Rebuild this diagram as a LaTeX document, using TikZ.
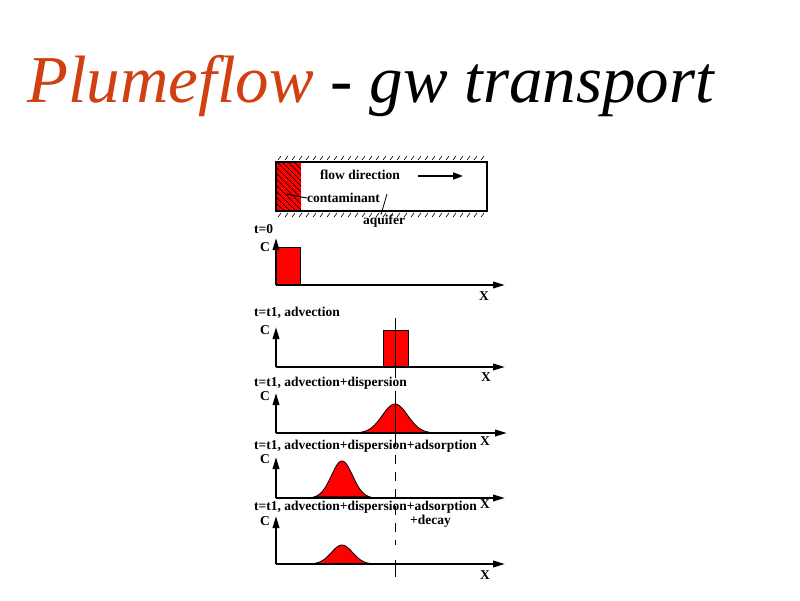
\documentclass[tikz,border=0pt]{standalone}
\usepackage{fontspec}
\setmainfont{Liberation Serif}
\usetikzlibrary{arrows.meta,patterns.meta}

\definecolor{plumered}{RGB}{208,64,16}

\begin{document}
\begin{tikzpicture}[
  x=1pt, y=-1pt,
  >={Triangle[length=12pt,width=6.5pt]},
  axis/.style={line width=2pt, ->},
  lab/.style={font=\fontsize{13.5}{15}\selectfont\bfseries, inner sep=0pt, anchor=west},
  sym/.style={font=\fontsize{13.5}{15}\selectfont\bfseries, inner sep=0pt},
  conc/.style={fill=red, draw=black, line width=0.8pt},
  hatch/.style={line width=0.6pt}
]
\useasboundingbox (0,0) rectangle (800,600);

% Title
\node[anchor=base west, inner sep=0pt, font=\fontsize{67}{78}\selectfont\itshape] (title) at (27,102) {\textcolor{plumered}{Plumeflow} - gw transport};

% Aquifer sketch
\fill[red] (276,162) rectangle (301,211);
\fill[pattern={Lines[angle=-45,distance=4pt,line width=0.8pt]}] (276,162) rectangle (301,211);
\draw[line width=2pt] (276,162) rectangle (487,211);
\foreach \hx in {278,285,...,484} {
  \draw[hatch] (\hx,160) -- ++(3,-4);
  \draw[hatch] (\hx,217) -- ++(3,-4);
}
\node[sym, anchor=west] (flowlab) at (320,175) {flow direction};
\draw[line width=2pt, -{Triangle[length=10pt,width=7pt]}] (418,176) -- (463,176);
\node[sym, anchor=west] (contlab) at (307,198) {contaminant};
\draw[line width=1pt] (contlab.west) -- (286,194);
\node[sym] (aqlab) at (384,221) {aquifer};
\draw[line width=0.8pt] ([xshift=-3pt]aqlab.north) -- (387,194);

% t=0
\node[lab] (t0lab) at (254,229) {t=0};
\fill[conc] (276,247) rectangle (300,285);
\draw[axis] (276,285) -- (276,238);
\draw[axis] (276,285) -- (505,285);
\node[sym] (c0) at (265,247) {C};
\node[sym] (x0) at (484,296) {X};

% advection
\node[lab] (t1lab) at (254,313) {t=t1, advection};
\fill[conc] (383,330) rectangle (408,367);
\draw[axis] (276,367) -- (276,327);
\draw[axis] (276,367) -- (505,367);
\node[sym] (c1) at (265,330) {C};
\node[sym] (x1) at (486,377) {X};

% advection + dispersion
\node[lab] (t2lab) at (254,383) {t=t1, advection+dispersion};
\fill[conc] plot[domain=359:431, samples=60] (\x, {433-29*exp(-((\x-395)/18)*((\x-395)/18))}) -- cycle;
\draw[axis] (276,433) -- (276,393);
\draw[axis] (276,433) -- (507,433);
\node[sym] (c2) at (265,396) {C};
\node[sym] (x2) at (485,441) {X};

% advection + dispersion + adsorption
\node[lab] (t3lab) at (254,446) {t=t1, advection+dispersion+adsorption};
\fill[conc] plot[domain=314:370, samples=60] (\x, {498-37*exp(-((\x-342)/15)*((\x-342)/15))}) -- cycle;
\draw[axis] (276,498) -- (276,457);
\draw[axis] (276,498) -- (505,498);
\node[sym] (c3) at (265,459) {C};
\node[sym] (x3) at (485,504) {X};

% advection + dispersion + adsorption + decay
\node[lab] (t4lab) at (254,507) {t=t1, advection+dispersion+adsorption};
\node[sym, anchor=west] (decaylab) at (410,521) {+decay};
\fill[conc] plot[domain=314:370, samples=60] (\x, {564-19*exp(-((\x-342)/15)*((\x-342)/15))}) -- cycle;
\draw[axis] (276,564) -- (276,516);
\draw[axis] (276,564) -- (505,564);
\node[sym] (c4) at (265,521) {C};
\node[sym] (x4) at (485,575) {X};

% reference position
\draw[line width=0.8pt] (395,318) -- (395,378);
\draw[line width=0.8pt] (395,391) -- (395,447);
\draw[line width=0.8pt, dash pattern=on 9pt off 8pt] (395,455) -- (395,545);
\draw[line width=0.8pt] (395,560) -- (395,577);
\end{tikzpicture}
\end{document}
